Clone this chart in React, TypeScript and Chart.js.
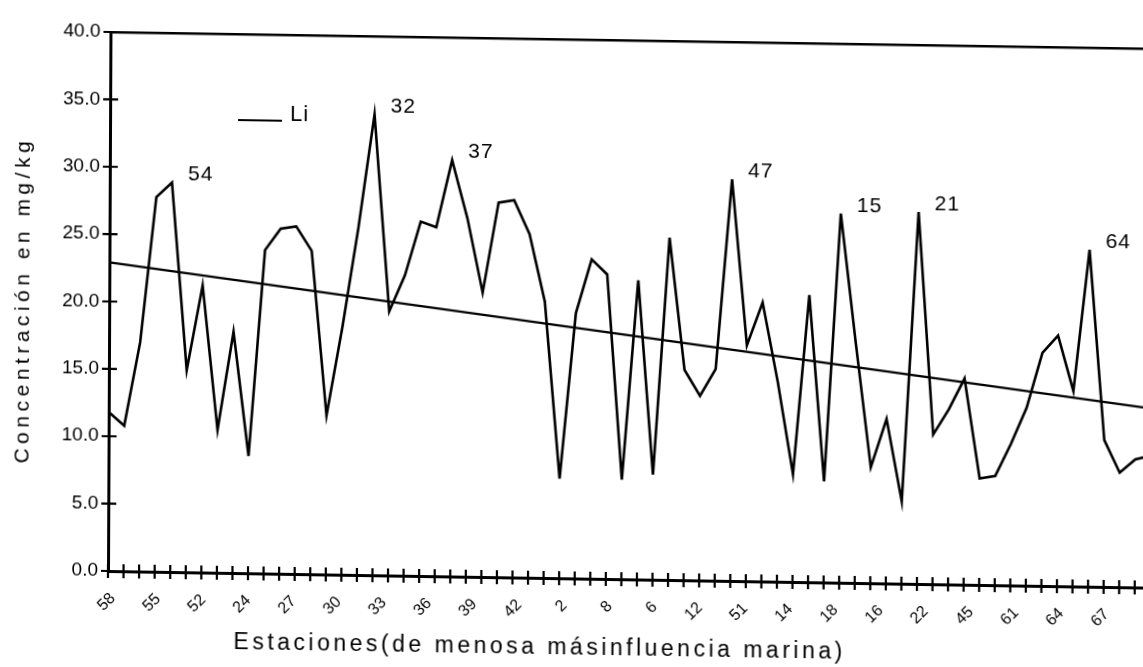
import React, { useEffect, useRef } from 'react';
import { Chart, registerables } from 'chart.js';

Chart.register(...registerables);

// Station codes printed along the x axis
const stationTicks = ['58', '55', '52', '24', '27', '30', '33', '36', '39', '42', '2', '8', '6', '12', '51', '14', '18', '16', '22', '45', '61', '64', '67'];

// Li concentration (mg/kg) per station, ordered from less to more marine influence
const liValues = [
  11.8, 10.8, 17.0, 27.8, 28.9, 15.0, 21.3, 10.6, 17.9, 8.7,
  24.0, 25.6, 25.8, 24.0, 11.8, 18.4, 25.8, 34.2, 19.6, 22.3,
  26.3, 25.9, 30.9, 26.6, 21.1, 27.8, 28.0, 25.5, 20.5, 7.4,
  19.7, 23.7, 22.6, 7.4, 22.2, 7.8, 25.4, 15.6, 13.7, 15.7,
  29.8, 17.5, 20.7, 14.8, 8.0, 21.3, 7.5, 27.4, 17.8, 8.6,
  12.2, 6.1, 27.6, 11.1, 13.0, 15.3, 7.9, 8.1, 10.5, 13.2,
  17.3, 18.6, 14.5, 25.0, 10.9, 8.5, 9.5, 9.8,
];

// Linear trend: value at the first and at the last station
const trendStart = 22.9;
const trendEnd = 13.3;

// Peaks labelled with their station code
const peakIndex = [4, 17, 22, 40, 47, 52, 63];
const peakStation = ['54', '32', '37', '47', '15', '21', '64'];

const yMin = 0;
const yMax = 40;
const yStep = 5;
// Extent of the station-label axis (in label slots)
const labelAxisMax = 23.08;

const FONT = '"Liberation Sans", Arial, Helvetica, sans-serif';
const xTitle = 'Estaciones(de menosa másinfluencia marina)';
const yTitle = 'Concentración en mg/kg';
const seriesName = 'Li';

const categories = liValues.map((_, i) => String(i));
const trendData = liValues.map((_, i) =>
  i === 0 ? trendStart : i === liValues.length - 1 ? trendEnd : null
);

// Small "+" ticks crossing both axes
const crossTicks = {
  id: 'crossTicks',
  afterDraw(chart: any) {
    const { ctx, chartArea, scales } = chart;
    const x = scales.x;
    const y = scales.y;
    ctx.save();
    ctx.strokeStyle = '#000';
    ctx.lineWidth = 2.2;
    ctx.beginPath();
    y.ticks.forEach((t: any) => {
      const py = y.getPixelForValue(t.value);
      ctx.moveTo(chartArea.left - 7, py);
      ctx.lineTo(chartArea.left + 8, py);
    });
    x.ticks.forEach((_: any, i: number) => {
      const px = x.getPixelForTick(i);
      ctx.moveTo(px, chartArea.bottom - 7);
      ctx.lineTo(px, chartArea.bottom + 7);
    });
    ctx.stroke();
    ctx.restore();
  },
};

// Station codes next to the main peaks, the inline legend and the axis titles
const decorations = {
  id: 'decorations',
  afterDraw(chart: any) {
    const { ctx, chartArea, scales } = chart;
    const x = scales.x;
    const y = scales.y;
    ctx.save();
    ctx.fillStyle = '#000';
    ctx.font = `21px ${FONT}`;
    ctx.textAlign = 'left';
    ctx.textBaseline = 'middle';
    (ctx as any).letterSpacing = '1px';
    peakIndex.forEach((idx, k) => {
      const px = x.getPixelForValue(idx);
      const py = y.getPixelForValue(liValues[idx]);
      ctx.fillText(peakStation[k], px + 16, py - 8);
    });

    // legend
    const ds = chart.data.datasets[0];
    const ly = chartArea.top + 86;
    ctx.strokeStyle = ds.borderColor;
    ctx.lineWidth = 2.2;
    ctx.beginPath();
    ctx.moveTo(chartArea.left + 128, ly);
    ctx.lineTo(chartArea.left + 172, ly);
    ctx.stroke();
    ctx.font = `22px ${FONT}`;
    ctx.fillText(ds.label, chartArea.left + 180, ly - 6);

    // axis titles
    ctx.textAlign = 'center';
    (ctx as any).letterSpacing = '3.5px';
    ctx.font = `23px ${FONT}`;
    ctx.fillText(xTitle, 540, 641);
    ctx.translate(22, (chartArea.top + chartArea.bottom) / 2);
    ctx.rotate(-Math.PI / 2);
    (ctx as any).letterSpacing = '4.5px';
    ctx.font = `21px ${FONT}`;
    ctx.fillText(yTitle, 0, 0);
    ctx.restore();
  },
};

export default function App() {
  const canvasRef = useRef<HTMLCanvasElement | null>(null);

  useEffect(() => {
    const canvas = canvasRef.current;
    if (!canvas) return;
    const chart = new Chart(canvas, {
      type: 'line',
      data: {
        labels: categories,
        datasets: [
          {
            label: seriesName,
            data: liValues,
            borderColor: '#000',
            borderWidth: 2.6,
            pointRadius: 0,
            tension: 0,
          },
          {
            label: 'tendencia',
            data: trendData,
            borderColor: '#000',
            borderWidth: 2.3,
            pointRadius: 0,
            spanGaps: true,
          },
        ],
      },
      options: {
        animation: false,
        responsive: false,
        devicePixelRatio: 1,
        layout: { padding: { top: 32, right: 0, bottom: 0, left: 0 } },
        plugins: {
          legend: { display: false },
          tooltip: { enabled: false },
        },
        scales: {
          x: {
            type: 'category',
            offset: false,
            grid: { display: false, drawTicks: false },
            border: { display: true, color: '#000', width: 3 },
            ticks: { display: false },
            afterFit: (s: any) => {
              s.height = 0;
            },
          },
          stations: {
            type: 'linear',
            position: 'bottom',
            min: 0,
            max: labelAxisMax,
            grid: { display: false, drawTicks: false },
            border: { display: false },
            ticks: {
              stepSize: 1,
              autoSkip: false,
              minRotation: 45,
              maxRotation: 45,
              padding: 18,
              labelOffset: 5,
              color: '#000',
              font: { family: FONT, size: 16 },
              callback: (v: any) => stationTicks[v] ?? '',
            },
            afterFit: (s: any) => {
              s.height = 96;
            },
          },
          y: {
            min: yMin,
            max: yMax,
            grid: {
              drawTicks: false,
              lineWidth: 2.4,
              color: (c: any) => (c.tick && c.tick.value === yMax ? '#000' : 'rgba(0,0,0,0)'),
            },
            border: { display: true, color: '#000', width: 3 },
            ticks: {
              stepSize: yStep,
              padding: 10,
              color: '#000',
              font: { family: FONT, size: 19 },
              callback: (v: any) => Number(v).toFixed(1),
            },
            afterFit: (s: any) => {
              s.width = 108;
            },
          },
        },
      },
      plugins: [crossTicks, decorations],
    });
    return () => chart.destroy();
  }, []);

  return (
    <div
      style={{
        position: 'absolute',
        left: 0,
        top: 0,
        width: 1143,
        height: 667,
        overflow: 'hidden',
        background: '#fff',
      }}
    >
      <canvas
        ref={canvasRef}
        width={1182}
        height={667}
        style={{
          display: 'block',
          width: 1182,
          height: 667,
          transform: 'matrix(1, 0.016, -0.0046, 1, 0, 0)',
          transformOrigin: '108px 571px',
        }}
      />
    </div>
  );
}
